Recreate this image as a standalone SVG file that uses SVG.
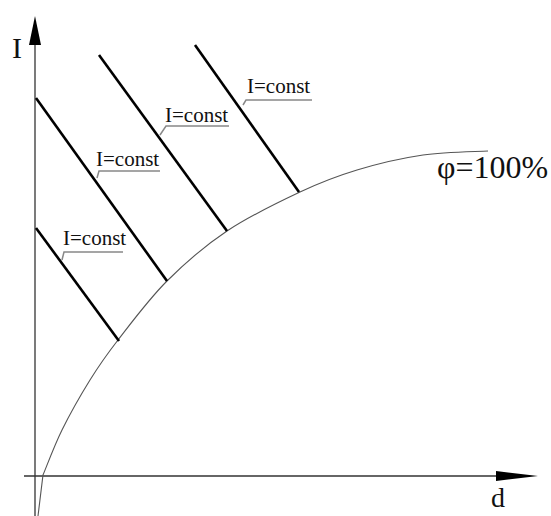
<svg xmlns="http://www.w3.org/2000/svg" width="551" height="516" viewBox="0 0 551 516">
<style>
.axis{stroke:#333;stroke-width:1.3;fill:none}
.curve{stroke:#555;stroke-width:1.1;fill:none}
.iso{stroke:#000;stroke-width:2.6;fill:none}
.lead{stroke:#888;stroke-width:1.5;fill:none}
.t{font-family:"Liberation Serif","Times New Roman",serif;fill:#111}
.lbl{font-size:21px}
</style>
<rect width="551" height="516" fill="#fff"/>
<g id="axes">
<line class="axis" x1="35" y1="516" x2="35" y2="44"/>
<polygon points="35,16 41,45 29,45" fill="#000"/>
<line class="axis" x1="24" y1="476" x2="497" y2="476"/>
<polygon points="496,471 538,476 496,481" fill="#000"/>
<text class="t" x="12" y="58" font-size="30">I</text>
<text class="t" x="491" y="507" font-size="28">d</text>
</g>
<g id="curve">
<path class="curve" d="M38,516 L43,475 C46.2,467.5 54.2,445.8 62,430 C69.8,414.2 80.7,395 90,380 C99.3,365 105.2,356.5 118,340 C130.8,323.5 148.8,299.2 167,281 C185.2,262.8 204.8,245.8 227,231 C249.2,216.2 278.3,202.2 300,192 C321.7,181.8 336.5,176.2 357,170 C377.5,163.8 401.2,158.2 423,155 C444.8,151.8 477.2,151.7 488,151"/>
<text class="t" x="437" y="178" font-size="32">φ=100%</text>
</g>
<g id="connectors">
<line class="iso" x1="36" y1="228" x2="119" y2="341"/>
<line class="iso" x1="36" y1="98" x2="167" y2="281"/>
<line class="iso" x1="99" y1="55" x2="227" y2="231"/>
<line class="iso" x1="195" y1="45" x2="299" y2="192"/>
</g>
<g id="label1">
<polyline class="lead" points="62,260 64,252 123,252"/>
<text class="t lbl" x="63" y="245">I=const</text>
</g>
<g id="label2">
<polyline class="lead" points="97,178 99,171 160,171"/>
<text class="t lbl" x="96" y="166">I=const</text>
</g>
<g id="label3">
<polyline class="lead" points="160,135 166,126 229,126"/>
<text class="t lbl" x="165" y="122">I=const</text>
</g>
<g id="label4">
<polyline class="lead" points="243,105 246,100 312,100"/>
<text class="t lbl" x="247" y="93">I=const</text>
</g>
</svg>
